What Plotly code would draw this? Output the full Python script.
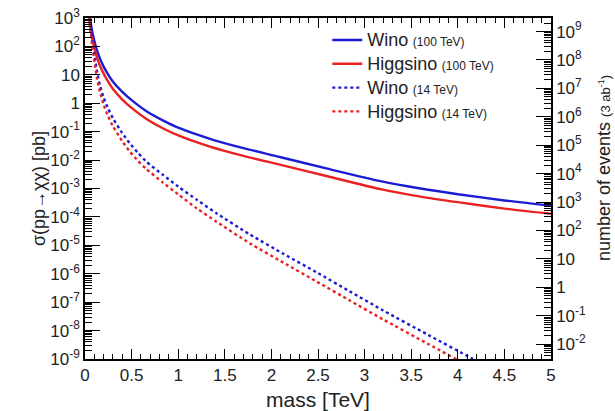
import plotly.graph_objects as go

# Pair-production cross sections (pb) versus mass (TeV)
mass_100 = [0.035, 0.05, 0.07, 0.1, 0.13, 0.16, 0.2, 0.25, 0.3, 0.4, 0.5, 0.66, 0.84,
            1.0, 1.34, 1.7, 2.1, 2.6, 3.17, 3.6, 4.0, 4.5, 5.0]
wino_100 = [3.5e3, 1.26e3, 447, 158, 70.8, 38, 19.5, 10, 5.75, 2.51, 1.29, 0.525, 0.245,
            0.138, 0.0562, 0.0263, 0.0126, 5.0e-3, 1.82e-3, 1.0e-3, 6.3e-4, 3.8e-4, 2.5e-4]
higgsino_100 = [2.0e3, 708, 251, 89, 39.8, 21.4, 11.0, 5.6, 3.16, 1.35, 0.69, 0.28, 0.129,
                0.074, 0.030, 0.0141, 6.8e-3, 2.7e-3, 9.5e-4, 5.2e-4, 3.3e-4, 1.95e-4, 1.29e-4]

mass_14 = [0.03, 0.05, 0.08, 0.107, 0.13, 0.16, 0.2, 0.25, 0.3, 0.4, 0.48, 0.57, 0.66,
           0.84, 1.0, 1.2, 1.41, 1.77, 2.13, 2.49, 2.84, 3.2, 3.68, 4.15, 4.4]
wino_14 = [5.0e3, 1.0e3, 158, 38, 12.6, 4.37, 1.58, 0.63, 0.295, 0.089, 0.039, 0.0178,
           8.7e-3, 2.95e-3, 1.17e-3, 4.0e-4, 1.35e-4, 2.4e-5, 5.0e-6, 1.1e-6, 2.4e-7,
           5.1e-8, 7.1e-9, 1.05e-9, 3.7e-10]
higgsino_14 = [2.8e3, 562, 89, 21.4, 7.2, 2.57, 0.89, 0.34, 0.155, 0.046, 0.020, 9.3e-3,
               4.8e-3, 1.58e-3, 6.2e-4, 2.0e-4, 6.8e-5, 1.17e-5, 2.45e-6, 5.2e-7, 1.15e-7,
               2.45e-8, 3.4e-9, 5.0e-10, 1.8e-10]

luminosity_pb = 3e6  # 3 ab^-1 expressed in pb^-1
lumi_decades = 6.4771  # log10(luminosity_pb): offset between the two vertical scales

x_ticks = [0, 0.5, 1, 1.5, 2, 2.5, 3, 3.5, 4, 4.5, 5]
x_labels = ["0", "0.5", "1", "1.5", "2", "2.5", "3", "3.5", "4", "4.5", "5"]
sigma_exps = list(range(-9, 4))
events_exps = list(range(-2, 10))

BLUE = "rgb(28,28,210)"
RED = "rgb(236,32,32)"
FONT = "Liberation Sans, Arial, sans-serif"
TXT = "#222"


def pow_label(e):
    if e == 0:
        return "1"
    if e == 1:
        return "10"
    return f"10<sup>{e}</sup>"


def minor_vals(lo, hi):
    return [k * 10.0 ** e for e in range(lo, hi) for k in range(2, 10)]


def legend_name(particle, energy):
    return (f"<span style='font-size:18px'>{particle}</span> "
            f"<span style='font-size:12px'>({energy})</span>")


fig = go.Figure()
series = [
    (legend_name("Wino", "100 TeV"), mass_100, wino_100, BLUE, "solid"),
    (legend_name("Higgsino", "100 TeV"), mass_100, higgsino_100, RED, "solid"),
    (legend_name("Wino", "14 TeV"), mass_14, wino_14, BLUE, "dot"),
    (legend_name("Higgsino", "14 TeV"), mass_14, higgsino_14, RED, "dot"),
]
for name, m, s, c, d in series:
    fig.add_trace(go.Scatter(x=m, y=s, name=name, mode="lines",
                             line=dict(color=c, width=2.4, dash=d, shape="spline", smoothing=0.6)))

# helper trace so the mirrored top and right axes are drawn
fig.add_trace(go.Scatter(x=[None], y=[None], xaxis="x2", yaxis="y2",
                         showlegend=False, hoverinfo="skip"))

axis_common = dict(showline=True, linecolor="black", linewidth=1.5, ticks="inside",
                   tickcolor="black", tickwidth=1.2, showgrid=False, zeroline=False,
                   automargin=False, tickfont=dict(family=FONT, size=17, color=TXT))
minor_x = dict(dtick=0.1, ticklen=5, ticks="inside", tickcolor="black", tickwidth=1.2)

fig.update_layout(
    width=615, height=411,
    margin=dict(l=85, r=64, t=18, b=52),
    paper_bgcolor="white", plot_bgcolor="white",
    font=dict(family=FONT, color=TXT),
    xaxis=dict(range=[0, 5], tickvals=x_ticks, ticktext=x_labels, ticklen=10, minor=minor_x,
               title=dict(text="mass [TeV]", font=dict(family=FONT, size=21, color=TXT), standoff=10),
               **axis_common),
    xaxis2=dict(range=[0, 5], overlaying="x", side="top", anchor="y", tickvals=x_ticks,
                showticklabels=False, ticklen=10, minor=minor_x, **axis_common),
    yaxis=dict(type="log", range=[-9, 3],
               tickvals=[10.0 ** e for e in sigma_exps],
               ticktext=[pow_label(e) for e in sigma_exps], ticklen=15,
               minor=dict(tickvals=minor_vals(-9, 3), ticklen=7, ticks="inside",
                          tickcolor="black", tickwidth=1.2),
               title=dict(text="σ(pp→χχ) [pb]", font=dict(family=FONT, size=18, color=TXT), standoff=0),
               **axis_common),
    yaxis2=dict(type="log", overlaying="y", side="right", anchor="x",
                range=[-9 + lumi_decades, 3 + lumi_decades],
                tickvals=[10.0 ** e for e in events_exps],
                ticktext=[pow_label(e) for e in events_exps], ticklen=15,
                minor=dict(tickvals=minor_vals(-3, 10), ticklen=7, ticks="inside",
                           tickcolor="black", tickwidth=1.2),
                **axis_common),
    legend=dict(x=0.52, y=0.985, xanchor="left", yanchor="top", bgcolor="rgba(0,0,0,0)",
                font=dict(family=FONT, size=16, color=TXT), tracegroupgap=0),
    showlegend=True,
    annotations=[dict(
        text="number of events <span style='font-size:13px'>(3 ab<sup>-1</sup>)</span>",
        xref="paper", yref="paper", x=1.1137, y=0.56, xanchor="center", yanchor="middle",
        textangle=-90, showarrow=False, font=dict(family=FONT, size=18, color=TXT))],
)

fig.write_html("out.html")
